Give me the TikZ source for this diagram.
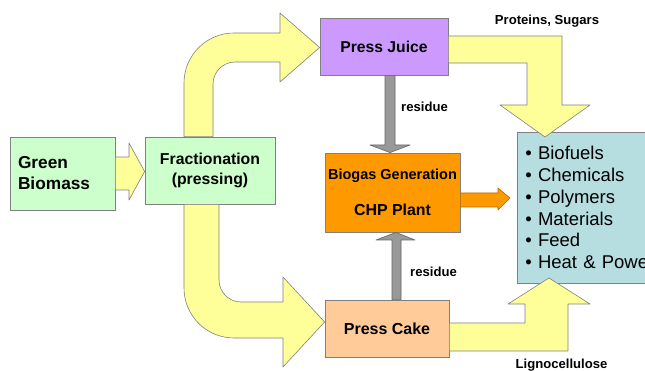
\documentclass[tikz,border=0pt]{standalone}
\usepackage{fontspec}
\setmainfont{Liberation Sans}
\usetikzlibrary{calc}
\definecolor{cgreen}{HTML}{CCFFCC}
\definecolor{cjuice}{HTML}{CC99FF}
\definecolor{corange}{HTML}{FF9900}
\definecolor{ccake}{HTML}{FFCC99}
\definecolor{cprod}{HTML}{B6DDE0}
\definecolor{cyellow}{HTML}{FFFF99}
\definecolor{cshaft}{HTML}{999999}
\definecolor{cgrey}{HTML}{808080}
\tikzset{
  box/.style={draw=cgrey, fill=#1, line width=0.8pt, align=center, inner sep=0pt},
  box/.default=cgreen,
  fat/.style={draw=cgrey, fill=#1, line width=0.6pt, line join=round},
  fat/.default=cyellow,
  tag/.style={font=\fontsize{13.1}{15}\selectfont\bfseries},
}
\newcommand{\fsz}[2]{\fontsize{#1}{#2}\selectfont\bfseries}

\begin{document}
\begin{tikzpicture}[x=1pt, y=-1pt]
  \useasboundingbox (0,0) rectangle (645,371);
  \clip (0,0) rectangle (645,371);
  % boxes
  \node[box, minimum width=105pt, minimum height=73pt, text width=89pt, align=left, font=\fsz{17.3}{21}] (green) at (62.5,173.5) {Green\\Biomass};
  \node[box, minimum width=130pt, minimum height=67pt, font=\fsz{15.8}{19.5}] (frac) at (210,170.5) {Fractionation\\(pressing)};
  \node[box=cjuice, minimum width=128pt, minimum height=57pt, font=\fsz{15.7}{19}] (juice) at (384,46.5) {Press Juice};
  \node[box=corange, minimum width=135pt, minimum height=79pt, font=\fsz{14.5}{36}] (biogas) at (392.5,192.5) {Biogas Generation\\{\fsz{15.9}{36}CHP Plant}};
  \node[box=ccake, minimum width=124pt, minimum height=57pt, font=\fsz{16}{19}] (cake) at (387,328.5) {Press Cake};
  \node[box=cprod, anchor=west, minimum height=151pt, text width=160pt, inner xsep=8pt, align=left, font=\fontsize{18.5}{21.8}\selectfont] (prod) at (517,207.5)
    {•\ Biofuels\\•\ Chemicals\\•\ Polymers\\•\ Materials\\•\ Feed\\•\ Heat \& Power};
  % block arrows
  \draw[fat] (green.east |- 0,157) -- (129,157) -- (129,143) -- (frac.west |- 0,171.5) -- (129,200) -- (129,190) -- (green.east |- 0,190) -- cycle;
  \draw[fat] (frac.north -| 184,0) -- (184,83) .. controls (184,55.4) and (206.4,33) .. (234,33) -- (280,33) -- (280,13) -- (juice.west |- 0,47.5)
    -- (280,82) -- (280,62) -- (235,62) .. controls (222.9,62) and (213,71.9) .. (213,84) -- (frac.north -| 213,0) -- cycle;
  \draw[fat] (frac.south -| 184,0) -- (184,288) .. controls (184,315.6) and (206.4,338) .. (234,338) -- (283,338) -- (283,367) -- (cake.west |- 0,322)
    -- (283,277) -- (283,302) -- (241,302) .. controls (228.9,302) and (219,292.1) .. (219,280) -- (frac.south -| 219,0) -- cycle;
  \draw[fat] (juice.east |- 0,36) -- (562,36) -- (562,105) -- (590,105) -- (545,137) -- (500,105) -- (527,105) -- (527,63) -- (juice.east |- 0,63) -- cycle;
  \draw[fat] (cake.east |- 0,323) -- (525,323) -- (525,304) -- (508,304) -- (549,278) -- (590,304) -- (568,304) -- (568,351) -- (cake.east |- 0,351) -- cycle;
  \draw[fat=cshaft, draw=cgrey!80!black] (juice.south -| 385,0) -- (385,145) -- (370,145) -- (biogas.north -| 390,0) -- (410,145) -- (395,145) -- (juice.south -| 395,0) -- cycle;
  \draw[fat=cshaft, draw=cgrey!80!black] (cake.north -| 392,0) -- (392,240) -- (376,240) -- (biogas.south -| 396,0) -- (415,240) -- (401,240) -- (cake.north -| 401,0) -- cycle;
  \draw[fat=corange, draw=corange!70!black] (biogas.east |- 0,193) -- (498,193) -- (498,188) -- (510,198) -- (498,210) -- (498,207) -- (biogas.east |- 0,207) -- cycle;
  % labels
  \node[tag] (ps) at (547,21) {Proteins, Sugars};
  \node[tag] (res1) at (424.5,107) {residue};
  \node[tag] (res2) at (433.5,272) {residue};
  \node[tag] (ligno) at (561.5,365) {Lignocellulose};
\end{tikzpicture}
\end{document}
